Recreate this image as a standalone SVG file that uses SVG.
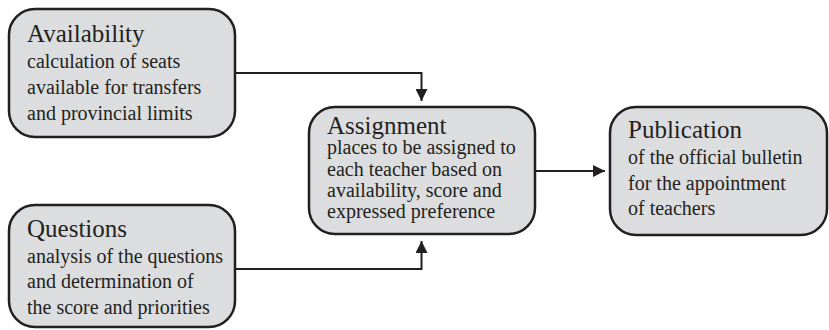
<svg xmlns="http://www.w3.org/2000/svg" width="829" height="330" viewBox="0 0 829 330">
<style>
.box{fill:#dcdddf;stroke:#231f20;stroke-width:2.5}
.t{font-family:"Liberation Serif","Times New Roman",serif;fill:#231f20}
.h{font-size:25px}
.s{font-size:20px}
.c{fill:none;stroke:#231f20;stroke-width:2}
</style>
<defs>
<marker id="ah" markerWidth="14" markerHeight="12" refX="12" refY="6" orient="auto" markerUnits="userSpaceOnUse">
<path d="M0,0 L12,6 L0,12 Z" fill="#231f20"/>
</marker>
</defs>
<rect width="829" height="330" fill="#ffffff"/>
<g id="connectors">
<path class="c" d="M235,73 H421.5 V101" marker-end="url(#ah)"/>
<path class="c" d="M235,269 H421.5 V241" marker-end="url(#ah)"/>
<path class="c" d="M535,171 H605" marker-end="url(#ah)"/>
</g>
<g id="availability">
<rect class="box" x="9" y="9" width="226" height="128" rx="26"/>
<text class="t h" x="27" y="42">Availability</text>
<text class="t s" x="27" y="68">calculation of seats</text>
<text class="t s" x="27" y="94">available for transfers</text>
<text class="t s" x="27" y="120">and provincial limits</text>
</g>
<g id="questions">
<rect class="box" x="9" y="205" width="226" height="122" rx="26"/>
<text class="t h" x="27" y="237">Questions</text>
<text class="t s" x="27" y="263">analysis of the questions</text>
<text class="t s" x="27" y="288">and determination of</text>
<text class="t s" x="27" y="314">the score and priorities</text>
</g>
<g id="assignment">
<rect class="box" x="309" y="107" width="226" height="127" rx="26"/>
<text class="t h" x="327" y="134">Assignment</text>
<text class="t s" x="327" y="154">places to be assigned to</text>
<text class="t s" x="327" y="176">each teacher based on</text>
<text class="t s" x="327" y="197">availability, score and</text>
<text class="t s" x="327" y="218">expressed preference</text>
</g>
<g id="publication">
<rect class="box" x="610" y="107" width="217" height="128" rx="26"/>
<text class="t h" x="628" y="138">Publication</text>
<text class="t s" x="628" y="164">of the official bulletin</text>
<text class="t s" x="628" y="190">for the appointment</text>
<text class="t s" x="628" y="215">of teachers</text>
</g>
</svg>
